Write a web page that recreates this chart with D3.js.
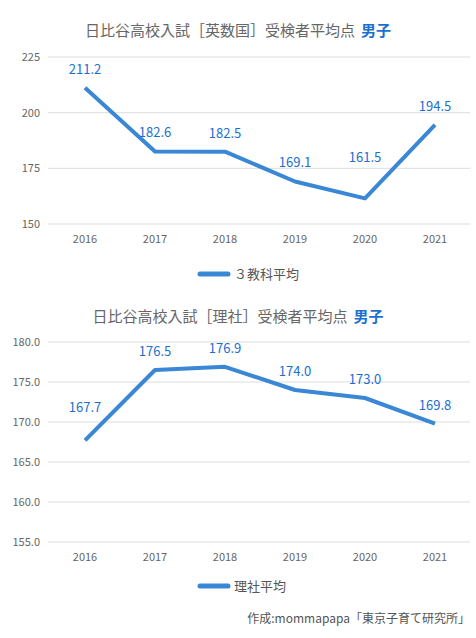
<!DOCTYPE html>
<html><head><meta charset="utf-8">
<script src="https://cdn.jsdelivr.net/npm/d3@7"></script>
<style>body{margin:0;background:#fff;font-family:"Noto Sans CJK JP","Noto Sans",sans-serif}</style>
</head><body><svg id="c" width="476" height="638"></svg>
<script>
const years = ["2016","2017","2018","2019","2020","2021"];
const threeSubj = [211.2,182.6,182.5,169.1,161.5,194.5];
const twoSubj = [167.7,176.5,176.9,174.0,173.0,169.8];
const ticks1 = [150,175,200,225];
const ticks2 = [155,160,165,170,175,180];
const blue = "#3a87d6";
const svg = d3.select("#c");

function chart(o){
  const g = svg.append("g");
  const x = d3.scalePoint().domain(years).range([85,435]);
  const y = d3.scaleLinear().domain(o.dom).range(o.yr);
  const t = g.append("text").attr("x",238).attr("y",o.ty).attr("text-anchor","middle").attr("font-size",15);
  t.append("tspan").attr("fill","#666").text(o.title);
  t.append("tspan").attr("fill","#1a6fd0").attr("font-weight","bold").attr("dx",6).text("男子");
  g.selectAll(".gl").data(o.ticks).join("line").attr("x1",48).attr("x2",470)
    .attr("y1",d=>y(d)).attr("y2",d=>y(d)).attr("stroke","#ddd");
  g.selectAll(".yt").data(o.ticks).join("text").attr("x",40).attr("y",d=>y(d)+4)
    .attr("text-anchor","end").attr("font-size",11).attr("fill","#666").text(d=>o.fmt(d));
  g.selectAll(".xt").data(years).join("text").attr("x",d=>x(d)).attr("y",o.yr[0]+19)
    .attr("text-anchor","middle").attr("font-size",11).attr("fill","#666").text(d=>d);
  g.append("path").datum(o.vals).attr("fill","none").attr("stroke",blue).attr("stroke-width",4)
    .attr("stroke-linejoin","round")
    .attr("d",d3.line().x((d,i)=>x(years[i])).y(d=>y(d)));
  g.selectAll(".lb").data(o.vals).join("text").attr("x",(d,i)=>x(years[i])).attr("y",(d,i)=>y(d)-o.off[i])
    .attr("text-anchor","middle").attr("font-size",13).attr("fill","#1a6fd0").text(d=>d.toFixed(1));
  g.append("line").attr("x1",200).attr("x2",228).attr("y1",o.ly).attr("y2",o.ly).attr("stroke",blue).attr("stroke-width",5).attr("stroke-linecap","round");
  g.append("text").attr("x",234).attr("y",o.ly+5).attr("font-size",13).attr("fill","#555").text(o.leg);
}
chart({title:"日比谷高校入試［英数国］受検者平均点",ty:36,dom:[150,225],yr:[224,57],ticks:ticks1,vals:threeSubj,fmt:d=>d,ly:274,leg:"３教科平均",off:[14,14,14,14,36,14]});
chart({title:"日比谷高校入試［理社］受検者平均点",ty:322,dom:[155,180],yr:[542,342],ticks:ticks2,vals:twoSubj,fmt:d=>d.toFixed(1),ly:586,leg:"理社平均",off:[28,14,14,14,14,14]});
svg.append("text").attr("x",470).attr("y",623).attr("text-anchor","end").attr("font-size",12).attr("fill","#555").text("作成:mommapapa「東京子育て研究所」");
</script></body></html>
